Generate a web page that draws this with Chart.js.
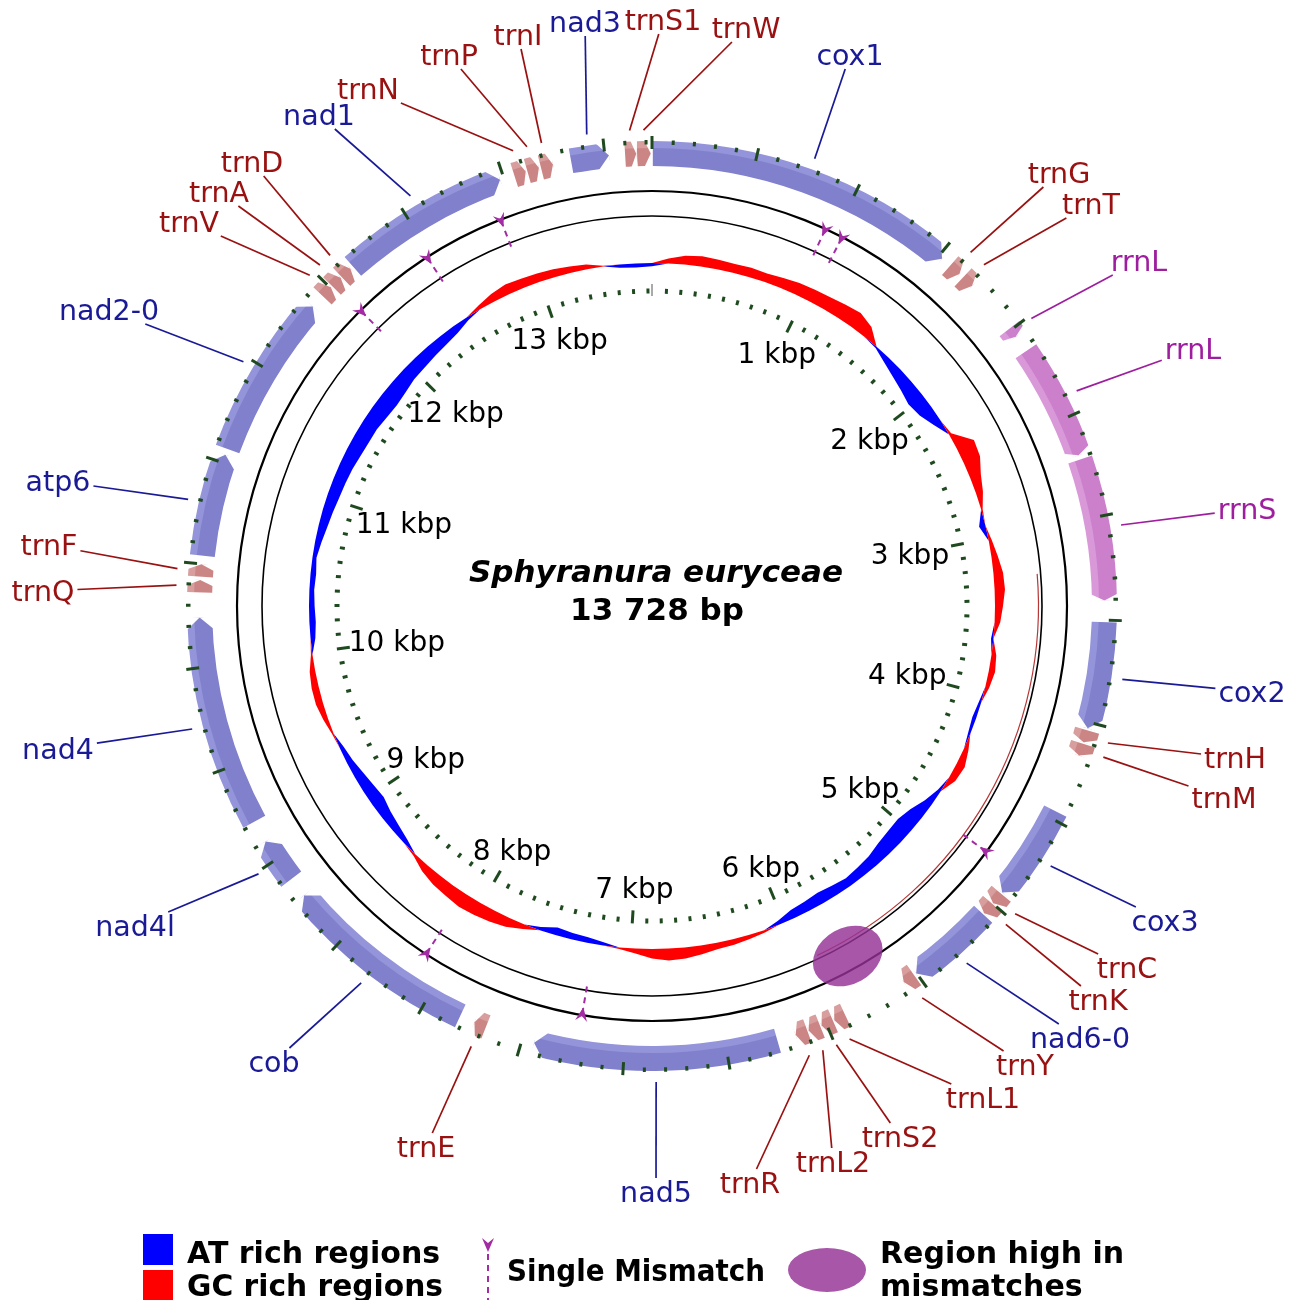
<!DOCTYPE html>
<html><head><meta charset="utf-8">
<script src="https://cdn.jsdelivr.net/npm/chart.js"></script>
<style>
html,body{margin:0;padding:0;background:#fff;}
#wrap{position:relative;width:1299px;height:1300px;overflow:hidden;background:#fff;}
#gc{position:absolute;left:52px;top:6px;}
#map{position:absolute;left:0;top:0;}
</style></head><body>
<div id="wrap">
<canvas id="gc" width="1200" height="1200"></canvas>
<canvas id="map" width="1299" height="1300"></canvas>
</div>
<script>
// ---------------- DATA ----------------
const genomeLength = 13728;
const speciesName = 'Sphyranura euryceae';
const sizeLabel = '13 728 bp';

const geneNames  = ['cox1','trnG','trnT','rrnL','rrnL','rrnS','cox2','trnH','trnM','cox3','trnC','trnK','nad6-0','trnY',
  'trnL1','trnS2','trnL2','trnR','nad5','trnE','cob','nad4l','nad4','trnQ','trnF','atp6','nad2-0','trnV','trnA','trnD',
  'nad1','trnN','trnP','trnI','nad3','trnS1','trnW'];
const geneStarts = [4,1572,1656,1990,2125,2712,3510,4040,4108,4460,4938,5003,5070,5515,
  5900,5965,6032,6098,6250,7685,7820,8880,9210,10362,10438,10540,11070,11946,12012,12076,
  12150,13052,13118,13186,13335,13598,13656];
const geneEnds   = [1520,1632,1716,2040,2690,3405,4030,4100,4168,4930,4998,5063,5502,5575,
  5958,6025,6092,6158,7440,7745,8780,9100,10240,10422,10498,11040,11876,12004,12070,12134,
  12980,13110,13176,13246,13520,13652,13722];
const geneTypes  = ['p','t','t','r','r','r','p','t','t','p','t','t','p','t',
  't','t','t','t','p','t','p','p','p','t','t','p','p','t','t','t',
  'p','t','t','t','p','t','t'];

// GC deviation per 104-bp window (positive = GC rich, negative = AT rich)
const gcDeviation = [
 -0.04, 0.06, 0.11, 0.13, 0.12, 0.11, 0.12, 0.11, 0.13, 0.15,
  0.16, 0.17, 0.19, 0.21, 0.15,-0.02,-0.08,-0.13,-0.17,-0.21,
 -0.18,-0.10, 0.03, 0.24, 0.22, 0.14, 0.09, 0.02,-0.08, 0.04,
  0.08, 0.12, 0.13, 0.10, 0.07,-0.03, 0.06, 0.08, 0.05,-0.03,
 -0.05,-0.03, 0.06, 0.11, 0.09,-0.04,-0.10,-0.18,-0.22,-0.21,
 -0.19,-0.15,-0.13,-0.11,-0.13,-0.15,-0.13,-0.11,-0.05, 0.03,
  0.05, 0.07, 0.08, 0.11, 0.14, 0.15, 0.12, 0.06, 0.02,-0.04,
 -0.07,-0.08,-0.10,-0.04, 0.06, 0.12, 0.15, 0.17, 0.18, 0.16,
  0.14, 0.10, 0.03,-0.06,-0.10,-0.13,-0.17,-0.15,-0.12,-0.08,
 -0.05, 0.02, 0.06, 0.09, 0.09, 0.07, 0.02,-0.06,-0.08,-0.07,
 -0.06,-0.07,-0.05,-0.08,-0.11,-0.13,-0.15,-0.16,-0.17,-0.19,
 -0.20,-0.20,-0.22,-0.23,-0.21,-0.18,-0.17,-0.15,-0.13,-0.10,
 -0.04, 0.05, 0.10, 0.13, 0.12, 0.11, 0.10, 0.08, 0.06, 0.01,
 -0.04,-0.05];

const scaleTickPositions = [1000,2000,3000,4000,5000,6000,7000,8000,9000,10000,11000,12000,13000];
const scaleTickLabels = ['1 kbp','2 kbp','3 kbp','4 kbp','5 kbp','6 kbp','7 kbp','8 kbp','9 kbp','10 kbp','11 kbp','12 kbp','13 kbp'];

const mismatchPositions = [942, 1040, 4817, 7234, 8122, 12027, 12477, 12912];
const highMismatchRegion = [5550, 5950];

const legendItems = ['AT rich regions','GC rich regions','Single Mismatch','Region high in','mismatches'];

// ---------------- LAYOUT / STYLE ----------------
// label text centre offsets from the map centre (px)
const labelLayout = [
 [198,-551],[407,-433],[439,-402],[487,-345],[541,-257],[595,-97],[600,86],[583,152],[572,192],[513,315],
 [475,362],[446,394],[428,432],[373,459],[331,492],[248,531],[181,556],[98,577],[4,586],[-226,541],
 [-378,456],[-517,320],[-594,143],[-609,-15],[-603,-61],[-594,-125],[-543,-296],[-463,-384],[-433,-414],[-400,-444],
 [-333,-491],[-284,-517],[-203,-551],[-134,-571],[-67,-584],[11,-586],[94,-578]];

const RING_IN = 440, RING_OUT = 465;
const GC_BASE = 343, GC_GAIN = 80;
const typeFill  = {p:'#8080cc', t:'#cc8585', r:'#cc80cc'};
const typeLight = {p:'#9494da', t:'#d89d9d', r:'#d999d9'};
const typeText  = {p:'#1a1a96', t:'#991111', r:'#9e1e9e'};
const TICK_GREEN = '#1f4a1f';
const MISMATCH = '#a32ba3';
const FONT = '"DejaVu Sans", "Liberation Sans", sans-serif';

// ---------------- helpers ----------------
const ang = bp => -Math.PI / 2 + 2 * Math.PI * bp / genomeLength;

function boxHit(x0, y0, cx, cy, hw, hh) {
  const dx = cx - x0, dy = cy - y0;
  const tx = Math.abs(dx) > 1e-6 ? 1 - hw / Math.abs(dx) : -Infinity;
  const ty = Math.abs(dy) > 1e-6 ? 1 - hh / Math.abs(dy) : -Infinity;
  const t = Math.max(0, Math.min(1, Math.max(tx, ty)));
  return [x0 + dx * t, y0 + dy * t];
}
function polyPath(ctx, pts) {
  ctx.beginPath();
  ctx.moveTo(pts[0][0], pts[0][1]);
  for (let i = 1; i < pts.length; i++) ctx.lineTo(pts[i][0], pts[i][1]);
  ctx.closePath();
}
function drawArrowHead(ctx, tipX, tipY, ux, uy) {
  const vx = -uy, vy = ux;
  ctx.beginPath();
  ctx.moveTo(tipX, tipY);
  ctx.lineTo(tipX + ux * 14 + vx * 6, tipY + uy * 14 + vy * 6);
  ctx.lineTo(tipX + ux * 9, tipY + uy * 9);
  ctx.lineTo(tipX + ux * 14 - vx * 6, tipY + uy * 14 - vy * 6);
  ctx.closePath();
  ctx.fill();
}

// ---------------- doughnut segments (genes + gaps) ----------------
const segValues = [], segColors = [], segGene = [], segLabels = [];
{
  let pos = 0;
  geneStarts.forEach((s, i) => {
    if (s > pos) { segValues.push(s - pos); segColors.push('rgba(0,0,0,0)'); segGene.push(-1); segLabels.push(''); }
    segValues.push(geneEnds[i] - s); segColors.push(typeFill[geneTypes[i]]); segGene.push(i); segLabels.push(geneNames[i]);
    pos = geneEnds[i];
  });
  if (pos < genomeLength) { segValues.push(genomeLength - pos); segColors.push('rgba(0,0,0,0)'); segGene.push(-1); segLabels.push(''); }
}

function mapCenter(chart) {
  const el = chart.getDatasetMeta(0).data[0];
  return [el.x, el.y];
}

const mapPlugin = {
  id: 'mapDecor',
  beforeDatasetsDraw(chart) {
    const ctx = chart.ctx;
    const [cx, cy] = mapCenter(chart);
    ctx.save();
    ctx.strokeStyle = '#000';
    ctx.lineWidth = 2.2;
    ctx.beginPath(); ctx.arc(cx, cy, 415, 0, Math.PI * 2); ctx.stroke();
    ctx.lineWidth = 1.6;
    ctx.beginPath(); ctx.arc(cx, cy, 390, 0, Math.PI * 2); ctx.stroke();
    ctx.strokeStyle = 'rgba(170,20,20,0.85)'; ctx.lineWidth = 1.2;
    ctx.beginPath(); ctx.arc(cx, cy, 386.5, ang(3250), ang(5900)); ctx.stroke();

    ctx.strokeStyle = TICK_GREEN; ctx.lineWidth = 3;
    for (let bp = 100; bp < genomeLength; bp += 100) {
      const a = ang(bp), c = Math.cos(a), s = Math.sin(a);
      const major = bp % 1000 === 0;
      const r0 = major ? 305 : 312.5, r1 = major ? 318 : 317.5;
      ctx.beginPath(); ctx.moveTo(cx + c * r0, cy + s * r0); ctx.lineTo(cx + c * r1, cy + s * r1); ctx.stroke();
    }
    ctx.strokeStyle = '#555'; ctx.lineWidth = 1;
    ctx.beginPath(); ctx.moveTo(cx, cy - 310); ctx.lineTo(cx, cy - 322); ctx.stroke();

    ctx.font = '28px ' + FONT; ctx.fillStyle = '#000'; ctx.textAlign = 'center'; ctx.textBaseline = 'alphabetic';
    scaleTickPositions.forEach((bp, i) => {
      const a = ang(bp), ux = Math.cos(a), uy = Math.sin(a);
      const w = ctx.measureText(scaleTickLabels[i]).width;
      const off = 35 + Math.pow(ux, 4) * (w / 2) * 0.55;
      const px = cx + ux * 318 - ux * off, py = cy + uy * 318 - uy * off;
      ctx.fillText(scaleTickLabels[i], px, py + 10);
    });

    mismatchPositions.forEach(bp => {
      const a = ang(bp), ux = Math.cos(a), uy = Math.sin(a);
      ctx.strokeStyle = MISMATCH; ctx.lineWidth = 2; ctx.setLineDash([6, 5]);
      ctx.beginPath(); ctx.moveTo(cx + ux * 414, cy + uy * 414); ctx.lineTo(cx + ux * 381, cy + uy * 381); ctx.stroke();
      ctx.setLineDash([]);
      ctx.fillStyle = MISMATCH;
      drawArrowHead(ctx, cx + ux * 407, cy + uy * 407, ux, uy);
    });

    {
      const a = ang((highMismatchRegion[0] + highMismatchRegion[1]) / 2);
      const half = Math.PI * (highMismatchRegion[1] - highMismatchRegion[0]) / genomeLength;
      const r = 401;
      ctx.fillStyle = 'rgba(149,49,149,0.82)';
      ctx.beginPath();
      ctx.ellipse(cx + Math.cos(a) * r, cy + Math.sin(a) * r, r * half, 28, a + Math.PI / 2, 0, Math.PI * 2);
      ctx.fill();
    }

    ctx.fillStyle = '#000'; ctx.textAlign = 'center';
    ctx.font = 'italic bold 31px ' + FONT;
    ctx.fillText(speciesName, cx + 4, cy - 24);
    ctx.font = 'bold 31px ' + FONT;
    ctx.fillText(sizeLabel, cx + 5, cy + 14);
    ctx.restore();
  },
  afterDatasetsDraw(chart) {
    const ctx = chart.ctx;
    const [cx, cy] = mapCenter(chart);
    const meta = chart.getDatasetMeta(0);
    meta.data.forEach((el, k) => {
      const gi = segGene[k];
      if (gi < 0) return;
      const p = el.getProps(['x', 'y', 'startAngle', 'endAngle', 'innerRadius', 'outerRadius'], true);
      const rMid = (p.innerRadius + p.outerRadius) / 2;
      const span = p.endAngle - p.startAngle;
      const tipPx = geneTypes[gi] === 'p' ? 11 : 6;
      const tip = Math.min(tipPx / rMid, span * 0.45);
      const t = p.endAngle - tip, e = p.endAngle + 0.003;
      const P = (r, a) => [p.x + r * Math.cos(a), p.y + r * Math.sin(a)];
      ctx.save();
      ctx.globalCompositeOperation = 'destination-out';
      polyPath(ctx, [P(p.outerRadius, t), P(rMid, p.endAngle), P(p.outerRadius + 4, e), P(p.outerRadius + 4, t)]);
      ctx.fill();
      polyPath(ctx, [P(p.innerRadius, t), P(rMid, p.endAngle), P(p.innerRadius - 4, e), P(p.innerRadius - 4, t)]);
      ctx.fill();
      ctx.globalCompositeOperation = 'source-atop';
      const mid = (p.startAngle + p.endAngle) / 2;
      const lit = (-Math.cos(mid) - Math.sin(mid)) > 0;
      const w = (p.outerRadius - p.innerRadius) * 0.28;
      ctx.beginPath();
      if (lit) { ctx.arc(p.x, p.y, p.outerRadius + 1, p.startAngle, p.endAngle); ctx.arc(p.x, p.y, p.outerRadius - w, p.endAngle, p.startAngle, true); }
      else { ctx.arc(p.x, p.y, p.innerRadius + w, p.startAngle, p.endAngle); ctx.arc(p.x, p.y, p.innerRadius - 1, p.endAngle, p.startAngle, true); }
      ctx.closePath();
      ctx.fillStyle = typeLight[geneTypes[gi]];
      ctx.fill();
      ctx.restore();
    });

    ctx.save();
    ctx.strokeStyle = TICK_GREEN; ctx.lineWidth = 3;
    for (let bp = 0; bp < genomeLength; bp += 100) {
      const a = ang(bp), c = Math.cos(a), s = Math.sin(a);
      const major = bp % 500 === 0;
      const r0 = major ? 457 : 461.5, r1 = major ? 470 : 466;
      ctx.beginPath(); ctx.moveTo(cx + c * r0, cy + s * r0); ctx.lineTo(cx + c * r1, cy + s * r1); ctx.stroke();
    }

    ctx.font = '28.5px ' + FONT; ctx.textAlign = 'center'; ctx.textBaseline = 'alphabetic';
    geneNames.forEach((name, i) => {
      const a = ang((geneStarts[i] + geneEnds[i]) / 2);
      const sx = cx + 476 * Math.cos(a), sy = cy + 476 * Math.sin(a);
      const lx = cx + labelLayout[i][0], ly = cy + labelLayout[i][1];
      const w = ctx.measureText(name).width;
      const [ex, ey] = boxHit(sx, sy, lx, ly, w / 2 + 3, 14);
      const col = typeText[geneTypes[i]];
      ctx.strokeStyle = col; ctx.lineWidth = 1.7;
      ctx.beginPath(); ctx.moveTo(sx, sy); ctx.lineTo(ex, ey); ctx.stroke();
      ctx.fillStyle = col;
      ctx.fillText(name, lx, ly + 10);
    });
    ctx.restore();
  },
  afterDraw(chart) {
    const ctx = chart.ctx;
    ctx.save();
    ctx.fillStyle = '#0000ff'; ctx.fillRect(143, 1234, 30, 31);
    ctx.fillStyle = '#ff0000'; ctx.fillRect(143, 1270, 30, 30);
    ctx.fillStyle = '#000'; ctx.textAlign = 'left'; ctx.textBaseline = 'alphabetic';
    ctx.font = 'bold 30px ' + FONT;
    const put = (txt, x, y, maxW) => {
      const w = ctx.measureText(txt).width;
      if (w > maxW) ctx.fillText(txt, x, y, maxW); else ctx.fillText(txt, x, y);
    };
    put(legendItems[0], 187, 1263, 256);
    put(legendItems[1], 187, 1296, 256);
    put(legendItems[2], 507, 1281, 258);
    put(legendItems[3], 880, 1263, 254);
    put(legendItems[4], 880, 1296, 212);
    ctx.strokeStyle = MISMATCH; ctx.lineWidth = 2; ctx.setLineDash([6, 5]);
    ctx.beginPath(); ctx.moveTo(488, 1254); ctx.lineTo(488, 1300); ctx.stroke();
    ctx.setLineDash([]);
    ctx.fillStyle = MISMATCH;
    drawArrowHead(ctx, 488, 1252, 0, -1);
    ctx.fillStyle = 'rgba(149,49,149,0.82)';
    ctx.beginPath(); ctx.ellipse(827, 1270, 39, 22, 0, 0, Math.PI * 2); ctx.fill();
    ctx.restore();
  }
};

const mapChart = new Chart(document.getElementById('map'), {
  type: 'doughnut',
  data: { labels: segLabels, datasets: [{ data: segValues, backgroundColor: segColors, borderWidth: 0, hoverOffset: 0 }] },
  options: {
    responsive: false, animation: false, events: [],
    rotation: 0, circumference: 360, radius: RING_OUT, cutout: (RING_IN / RING_OUT * 100) + '%',
    layout: { padding: { left: 52, top: 6, right: 47, bottom: 94 } },
    plugins: { legend: { display: false }, tooltip: { enabled: false } }
  },
  plugins: [mapPlugin]
});

// ---------------- GC content track (radar) ----------------
const gcLabels = gcDeviation.map((_, i) => String(Math.round(i * genomeLength / gcDeviation.length)));
const gcBase = gcDeviation.map(() => GC_BASE);
const gcRich = gcDeviation.map(v => GC_BASE + Math.max(v, 0) * GC_GAIN);
const atRich = gcDeviation.map(v => GC_BASE + Math.min(v, 0) * GC_GAIN);
const gcCanvas = document.getElementById('gc');
const gcChart = new Chart(gcCanvas, {
  type: 'radar',
  data: { labels: gcLabels, datasets: [
    { data: gcBase, borderColor: 'rgba(0,0,0,0)', backgroundColor: 'rgba(0,0,0,0)', borderWidth: 0, fill: false, pointRadius: 0 },
    { data: gcRich, borderColor: 'rgba(0,0,0,0)', backgroundColor: '#ff0000', borderWidth: 0, fill: '-1', pointRadius: 0 },
    { data: atRich, borderColor: 'rgba(0,0,0,0)', backgroundColor: '#0000ff', borderWidth: 0, fill: '-2', pointRadius: 0 }
  ]},
  options: {
    responsive: false, animation: false, events: [],
    layout: { padding: 0 },
    elements: { line: { tension: 0, borderWidth: 0 }, point: { radius: 0 } },
    plugins: { legend: { display: false }, tooltip: { enabled: false } },
    scales: { r: { min: 0, max: 600, display: false, startAngle: 0,
      ticks: { display: false }, pointLabels: { display: false },
      grid: { display: false }, angleLines: { display: false } } }
  }
});
{
  const rs = gcChart.scales.r;
  if (Math.abs(rs.drawingArea - 600) > 0.01) { gcChart.options.scales.r.max = rs.drawingArea; gcChart.update(); }
  const [mx, my] = mapCenter(mapChart);
  gcCanvas.style.left = (mx - gcChart.scales.r.xCenter) + 'px';
  gcCanvas.style.top = (my - gcChart.scales.r.yCenter) + 'px';
}
</script>
</body></html>
